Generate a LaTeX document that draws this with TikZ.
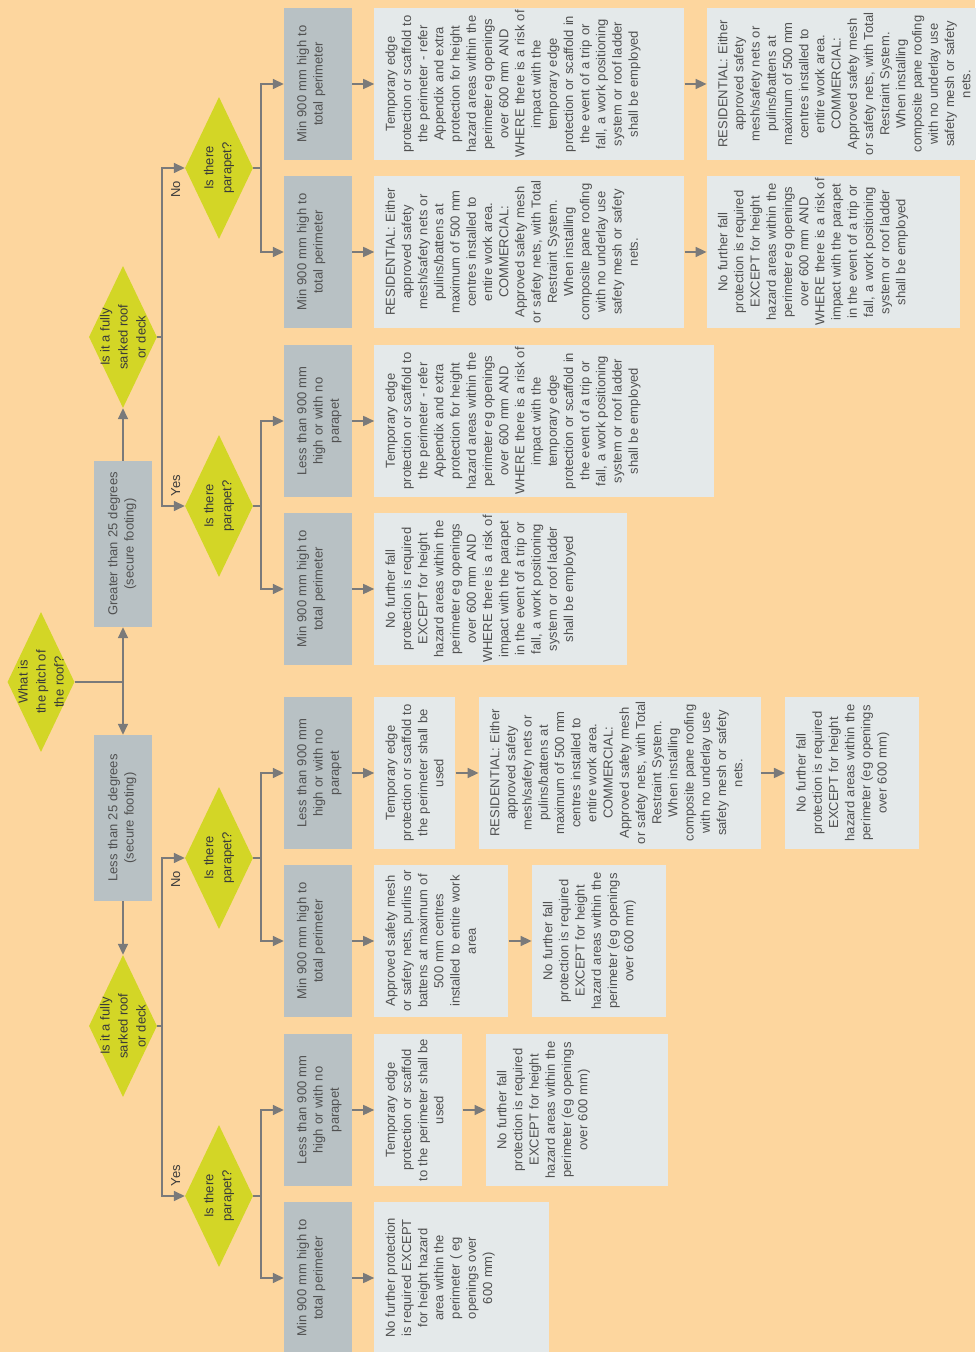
\documentclass[tikz,border=0pt]{standalone}
\usepackage{fontspec}
\setmainfont{Liberation Sans}
\usepackage{xcolor}
\usepackage{tikz}
\usetikzlibrary{arrows.meta,positioning,shapes.geometric}

\definecolor{bgpeach}{HTML}{FDD69E}
\definecolor{askgreen}{HTML}{D3D626}
\definecolor{boxgrey}{HTML}{B8C1C4}
\definecolor{boxlite}{HTML}{E4E9EA}
\definecolor{linegrey}{HTML}{7A7A7A}
\definecolor{txtgrey}{HTML}{505050}
\definecolor{txtdark}{HTML}{3A3A3A}

% repeated box texts
\newcommand{\edgetxt}{Temporary edge\\protection or scaffold to\\the perimeter - refer\\
  Appendix and extra\\protection for height\\hazard areas within the\\perimeter eg openings\\
  over 600 mm AND\\WHERE there is a risk of\\impact with the\\temporary edge\\
  protection or scaffold in\\the event of a trip or\\fall, a work positioning\\
  system or roof ladder\\shall be employed}
\newcommand{\meshtxt}{RESIDENTIAL: Either\\approved safety\\mesh/safety nets or\\
  pulins/battens at\\maximum of 500 mm\\centres installed to\\entire work area.\\
  COMMERCIAL:\\Approved safety mesh\\or safety nets, with Total\\Restraint System.\\
  When installing\\composite pane roofing\\with no underlay use\\safety mesh or safety\\nets.}
\newcommand{\parapettxt}{No further fall\\protection is required\\EXCEPT for height\\
  hazard areas within the\\perimeter eg openings\\over 600 mm AND\\WHERE there is a risk of\\
  impact with the parapet\\in the event of a trip or\\fall, a work positioning\\
  system or roof ladder\\shall be employed}
\newcommand{\openingtxt}{No further fall\\protection is required\\EXCEPT for height\\
  hazard areas within the\\perimeter (eg openings\\over 600 mm)}

\begin{document}
\begin{tikzpicture}[
  x=1pt,y=1pt,rotate=90,transform shape,
  font=\fontsize{13}{16.2}\selectfont,
  ask/.style={diamond,fill=askgreen,aspect=2,inner sep=-12pt,align=center,
              minimum width=142pt,minimum height=68pt,text=txtdark,
              font=\fontsize{13}{18}\selectfont},
  gbox/.style={fill=boxgrey,text=txtgrey,align=center,text width=150pt,
               minimum width=152pt,inner xsep=1pt,inner ysep=4pt,
               text height=18.5pt,text depth=41.5pt},
  pitchbox/.style={gbox,text width=164pt,minimum width=166pt,
                   text height=19.5pt,text depth=30.5pt},
  lbox/.style={fill=boxlite,text=txtgrey,align=center,text width=150pt,
               minimum width=152pt,inner xsep=1pt,inner ysep=4pt,
               text height=16.5pt,text depth={#1-24.5pt}},
  flow/.style={-{Triangle[length=11pt,width=10pt]},line width=1.6pt,draw=linegrey},
  lbl/.style={inner sep=1pt,text=txtdark}]

\path[use as bounding box,fill=bgpeach] (0,0) rectangle (1352,975);

% ---- questions --------------------------------------------------------
\node[ask,minimum width=140pt,minimum height=67pt] (pitch) at (670,934)
  {What is\\the pitch of\\the roof?};
\node[pitchbox] (lt) at (534,852) {Less than 25 degrees\\(secure footing)};
\node[pitchbox] (gt) at (808,852) {Greater than 25 degrees\\(secure footing)};
\node[ask] (sarklt) at (326,852)  {Is it a fully\\sarked roof\\or deck};
\node[ask] (sarkgt) at (1015,852) {Is it a fully\\sarked roof\\or deck};
\node[ask] (parltyes) at (156,756)  {Is there\\parapet?};
\node[ask] (parltno)  at (494,756)  {Is there\\parapet?};
\node[ask] (pargtyes) at (846,756)  {Is there\\parapet?};
\node[ask] (pargtno)  at (1184,756) {Is there\\parapet?};

% ---- parapet heights --------------------------------------------------
\node[gbox] (ltyes2) at (74,657)   {Min 900 mm high to\\total perimeter};
\node[gbox] (ltyes1) at (242,657)  {Less than 900 mm\\high or with no\\parapet};
\node[gbox] (ltno2)  at (411,657)  {Min 900 mm high to\\total perimeter};
\node[gbox] (ltno1)  at (579,657)  {Less than 900 mm\\high or with no\\parapet};
\node[gbox] (gtyes2) at (763,657)  {Min 900 mm high to\\total perimeter};
\node[gbox] (gtyes1) at (931,657)  {Less than 900 mm\\high or with no\\parapet};
\node[gbox] (gtno2)  at (1100,657) {Min 900 mm high to\\total perimeter};
\node[gbox] (gtno1)  at (1268,657) {Min 900 mm high to\\total perimeter};

% ---- measures ---------------------------------------------------------
\node[lbox=175pt,below=22pt of ltyes2] (ltyes2a)
  {No further protection\\is required EXCEPT\\for height hazard\\area within the\\
   perimeter ( eg\\openings over\\600 mm)};
\node[lbox=88pt,below=22pt of ltyes1] (ltyes1a)
  {Temporary edge\\protection or scaffold\\to the perimeter shall be\\used};
\node[lbox=182pt,below=23pt of ltyes1a] (ltyes1b) {\openingtxt};
\node[lbox=134pt,below=22pt of ltno2] (ltno2a)
  {Approved safety mesh\\or safety nets, purlins or\\battens at maximum of\\
   500 mm centres\\installed to entire work\\area};
\node[lbox=134pt,below=23pt of ltno2a] (ltno2b) {\openingtxt};
\node[lbox=81pt,below=22pt of ltno1] (ltno1a)
  {Temporary edge\\protection or scaffold to\\the perimeter shall be\\used};
\node[lbox=282pt,below=23pt of ltno1a] (ltno1b) {\meshtxt};
\node[lbox=134pt,below=24pt of ltno1b] (ltno1c) {\openingtxt};
\node[lbox=253pt,below=22pt of gtyes2] (gtyes2a) {\parapettxt};
\node[lbox=340pt,below=22pt of gtyes1] (gtyes1a) {\edgetxt};
\node[lbox=310pt,below=22pt of gtno2] (gtno2a) {\meshtxt};
\node[lbox=253pt,below=22pt of gtno2a] (gtno2b) {\parapettxt};
\node[lbox=310pt,below=22pt of gtno1] (gtno1a) {\edgetxt};
\node[lbox=270pt,below=22pt of gtno1a] (gtno1b) {\meshtxt};

% ---- edges ------------------------------------------------------------
\draw[flow] (pitch.south) |- (lt);
\draw[flow] (pitch.south) |- (gt);
\draw[flow] (lt) -- (sarklt);
\draw[flow] (gt) -- (sarkgt);
\draw[flow] (sarklt.south) -- ++(0,-5) -| (parltno)
      node[lbl,pos=0.8,left=11pt] {No};
\draw[flow] (sarklt.south) -- ++(0,-5) -| (parltyes)
      node[lbl,pos=0.8,right=8pt] {Yes};
\draw[flow] (sarkgt.south) -- ++(0,-5) -| (pargtno)
      node[lbl,pos=0.8,left=11pt] {No};
\draw[flow] (sarkgt.south) -- ++(0,-5) -| (pargtyes)
      node[lbl,pos=0.8,right=8pt] {Yes};
\draw[flow] (parltyes.south) -- ++(0,-8) -| (ltyes1);
\draw[flow] (parltyes.south) -- ++(0,-8) -| (ltyes2);
\draw[flow] (parltno.south) -- ++(0,-8) -| (ltno1);
\draw[flow] (parltno.south) -- ++(0,-8) -| (ltno2);
\draw[flow] (pargtyes.south) -- ++(0,-8) -| (gtyes1);
\draw[flow] (pargtyes.south) -- ++(0,-8) -| (gtyes2);
\draw[flow] (pargtno.south) -- ++(0,-8) -| (gtno1);
\draw[flow] (pargtno.south) -- ++(0,-8) -| (gtno2);
\draw[flow] (ltyes2) -- (ltyes2a);
\draw[flow] (ltyes1) -- (ltyes1a);
\draw[flow] (ltyes1a) -- (ltyes1b);
\draw[flow] (ltno2) -- (ltno2a);
\draw[flow] (ltno2a) -- (ltno2b);
\draw[flow] (ltno1) -- (ltno1a);
\draw[flow] (ltno1a) -- (ltno1b);
\draw[flow] (ltno1b) -- (ltno1c);
\draw[flow] (gtyes2) -- (gtyes2a);
\draw[flow] (gtyes1) -- (gtyes1a);
\draw[flow] (gtno2) -- (gtno2a);
\draw[flow] (gtno2a) -- (gtno2b);
\draw[flow] (gtno1) -- (gtno1a);
\draw[flow] (gtno1a) -- (gtno1b);
\end{tikzpicture}
\end{document}
